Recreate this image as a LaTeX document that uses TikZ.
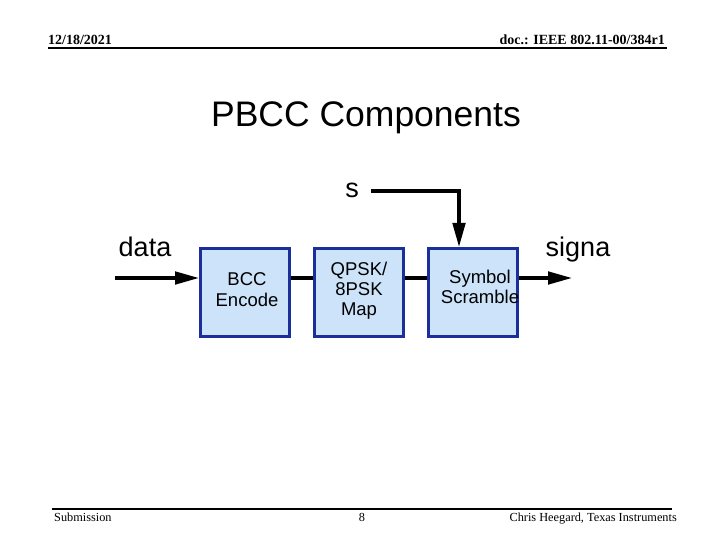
\documentclass[tikz,border=0pt]{standalone}
\usepackage{fontspec}
\setmainfont{Liberation Serif}
\newfontfamily\arialfont{Liberation Sans}
\usetikzlibrary{arrows.meta}
\definecolor{boxfill}{HTML}{CCE3FA}
\definecolor{boxline}{HTML}{1A2E9C}
\tikzset{
  blk/.style={draw=boxline, fill=boxfill, line width=3pt, minimum width=89pt, minimum height=88pt, inner sep=0pt},
  blktext/.style={font=\arialfont\fontsize{18.5}{20}\selectfont, align=center, inner sep=0pt},
  lbl/.style={font=\arialfont\fontsize{27}{30}\selectfont, inner sep=0pt, anchor=base},
  conn/.style={line width=3.3pt, black},
  tip/.style={-{Triangle[length=24pt,width=12.5pt]}},
  arr/.style={conn, tip},
  hdr/.style={font=\fontsize{14}{16}\selectfont\bfseries, inner sep=0pt, anchor=base},
  ftr/.style={font=\fontsize{12.3}{14}\selectfont, inner sep=0pt, anchor=base},
}
\begin{document}
\begin{tikzpicture}[x=1pt,y=-1pt]
\useasboundingbox (0,0) rectangle (720,540);
% header
\node[hdr, anchor=base west] (date) at (48,45) {12/18/2021};
\node[hdr, anchor=base east] (doc) at (665,45) {doc.: IEEE 802.11-00/384r1};
\coordinate (hl) at (48,48);
\coordinate (hr) at (667,48);
\draw[line width=2pt] (hl) -- (hr);
% title
\node[font=\arialfont\fontsize{35.5}{40}\selectfont, inner sep=0pt, anchor=base] (title) at (366,127) {PBCC Components};
% blocks
\node[blk] (box1) at (245,292.5) {};
\node[blk] (box2) at (359,292.5) {};
\node[blk] (box3) at (473,292.5) {};
\node[blktext, font=\arialfont\fontsize{18.5}{21}\selectfont] (t1) at (247,290) {BCC\\Encode};
\node[blktext] (t2) at (359,290.3) {QPSK/\\8PSK\\Map};
\node[blktext] (t3) at (480,286.4) {Symbol\\Scramble};
% labels
\node[lbl] (data) at (145,256) {data};
\node[lbl] (signa) at (578,256) {signa};
\node[lbl] (s) at (352,198) {s};
% connectors
\coordinate (in) at (115,278);
\coordinate (out) at (572,278);
\coordinate (sstart) at (371,191);
\coordinate (scorner) at (459,191);
\draw[arr] (in) -- (box1.west |- in);
\draw[conn] (box1.east |- in) -- (box2.west |- in);
\draw[conn] (box2.east |- in) -- (box3.west |- in);
\draw[arr] (box3.east |- in) -- (out);
\draw[arr] (sstart) -- (scorner) -- (scorner |- box3.north);
% footer
\coordinate (fl) at (52,509);
\coordinate (fr) at (672,509);
\draw[line width=2pt] (fl) -- (fr);
\node[ftr, anchor=base west] (sub) at (54,521) {Submission};
\node[ftr] (page) at (362,521) {8};
\node[ftr, anchor=base east] (auth) at (677,521) {Chris Heegard, Texas Instruments};
\end{tikzpicture}
\end{document}
